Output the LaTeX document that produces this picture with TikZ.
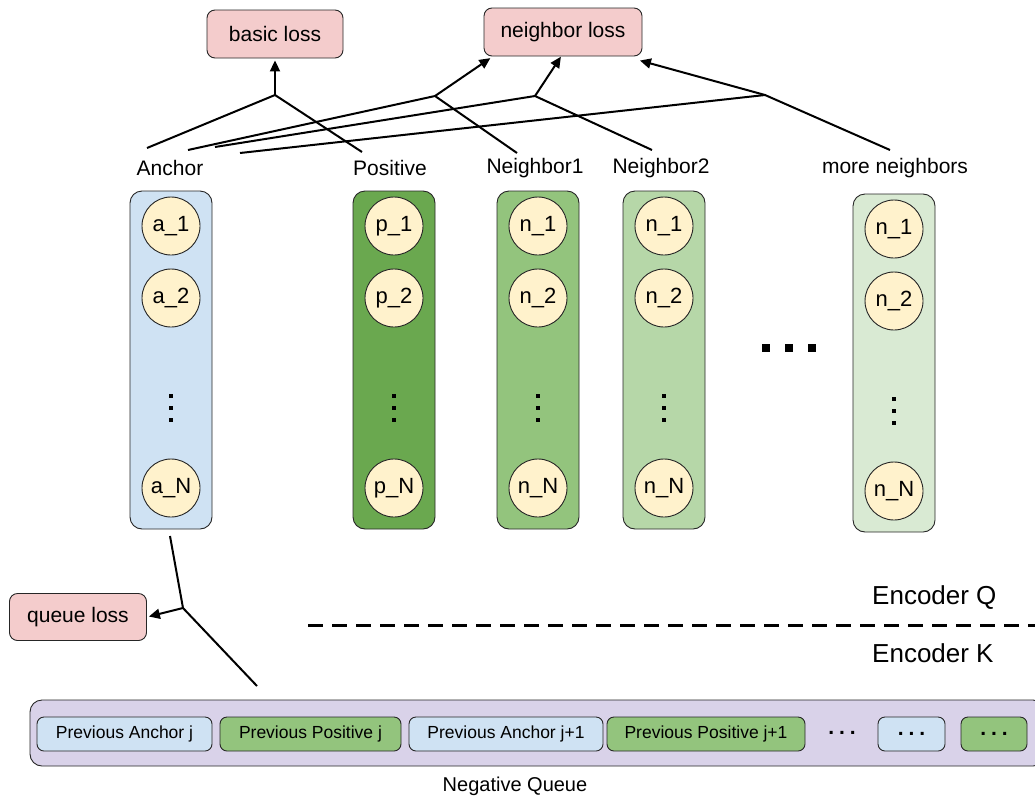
\documentclass[tikz,border=0pt]{standalone}
\usepackage{fontspec}
\setmainfont{Liberation Sans}
\usetikzlibrary{arrows.meta, positioning}
\definecolor{ink}{HTML}{262626}
\definecolor{colA}{HTML}{CFE2F3}
\definecolor{colP}{HTML}{6AA84F}
\definecolor{colNa}{HTML}{93C47D}
\definecolor{colNb}{HTML}{B6D7A8}
\definecolor{colNc}{HTML}{D9EAD3}
\definecolor{cellfill}{HTML}{FFF2CC}
\definecolor{lossfill}{HTML}{F4CCCC}
\definecolor{queuefill}{HTML}{D9D2E9}
\tikzset{
  col/.style={rounded corners=12pt, draw=ink, line width=0.9pt,
    minimum width=82pt, minimum height=338pt, inner sep=0pt},
  cell/.style={circle, draw=ink, line width=0.9pt, fill=cellfill,
    minimum size=58pt, inner sep=0pt, font=\fontsize{22}{26}\selectfont},
  lbl/.style={font=\fontsize{21}{25}\selectfont, inner sep=0pt},
  loss/.style={rounded corners=8pt, draw=ink, line width=0.9pt, fill=lossfill,
    font=\fontsize{21}{25}\selectfont, inner sep=0pt},
  qbox/.style={rounded corners=7pt, draw=ink, line width=0.9pt,
    minimum height=34pt, inner sep=0pt, font=\fontsize{17.5}{20}\selectfont},
  qdot/.style={font=\fontsize{21}{24}\selectfont\bfseries, inner sep=0pt},
  enc/.style={font=\fontsize{26}{30}\selectfont, inner sep=0pt, anchor=west},
  link/.style={line width=2pt, color=black},
  flow/.style={link, -{Triangle[length=11pt, width=10pt]}, shorten >=2pt},
}

\begin{document}
\begin{tikzpicture}[x=1pt, y=-1pt]
  \useasboundingbox (0,0) rectangle (1035,798);

  % loss boxes
  \node[loss, minimum width=136pt, minimum height=48pt] (basic) at (275,34) {basic loss};
  \node[loss, minimum width=158pt, minimum height=48pt] (nloss) at (563,32) {neighbor loss};
  \node[loss, minimum width=137pt, minimum height=47pt] (qloss) at (78,617) {queue loss};

  % column labels
  \node[lbl] (lanc) at (170,168) {Anchor};
  \node[lbl] (lpos) at (390,168) {Positive};
  \node[lbl] (lna) at (535,168) {Neighbor1};
  \node[lbl] (lnb) at (661,168) {Neighbor2};
  \node[lbl] (lnc) at (895,168) {more neighbors};

  % embedding columns
  \foreach \x/\dy/\c/\l/\n in {171/0/colA/a/A, 394/0/colP/p/P, 538/0/colNa/n/Na,
      664/0/colNb/n/Nb, 894/3/colNc/n/Nc}{
    \node[col, fill=\c] (col\n) at (\x,360+\dy) {};
    \node[cell] (\n-1) at (\x,226+\dy) {\l\_1};
    \node[cell] (\n-2) at (\x,298+\dy) {\l\_2};
    \node[cell] (\n-N) at (\x,488+\dy) {\l\_N};
    \foreach \y in {396,408,420}
      \fill (\x-2,\y+\dy-2) rectangle ++(4,4);
  }
  \foreach \x in {766,789,812}
    \fill (\x-4,344) rectangle ++(8,8);

  % junctions and line ends
  \coordinate (jb) at (275,95);
  \coordinate (ja) at (435,96);
  \coordinate (jn) at (535,96);
  \coordinate (jm) at (765,95);
  \coordinate (ta) at (492,57);
  \coordinate (tn) at (562,55);
  \coordinate (tm) at (638,60);
  \coordinate (e1) at (147,148);
  \coordinate (e2) at (188,150);
  \coordinate (e3) at (215,147);
  \coordinate (e4) at (240,153);
  \coordinate (ep) at (362,152);
  \coordinate (ea) at (517,153);
  \coordinate (en) at (652,150);
  \coordinate (em) at (890,150);

  \draw[link] (e1) -- (jb) -- (ep);
  \draw[flow] (jb) -- (basic);
  \draw[link] (e2) -- (ja) -- (ea);
  \draw[flow] (ja) -- (ta);
  \draw[link] (e3) -- (jn) -- (en);
  \draw[flow] (jn) -- (tn);
  \draw[link] (e4) -- (jm) -- (em);
  \draw[flow] (jm) -- (tm);

  % queue loss
  \coordinate (qa) at (170,536);
  \coordinate (jq) at (183,608);
  \coordinate (qb) at (257,686);
  \draw[link] (qa) -- (jq) -- (qb);
  \draw[flow] (jq) -- (qloss.east);

  % encoder split
  \coordinate (dl) at (308,625);
  \coordinate (dr) at (1035,625);
  \draw[line width=3pt, dash pattern=on 15pt off 9pt] (dl) -- (dr);
  \node[enc] (encq) at (872,598) {Encoder Q};
  \node[enc] (enck) at (872,653) {Encoder K};

  % negative queue
  \node[qbox, rounded corners=12pt, fill=queuefill, minimum width=1015pt,
    minimum height=66pt] (queue) at (537.5,733) {};
  \node[qbox, fill=colA, minimum width=175pt] (qa1) at (124.5,734) {Previous Anchor j};
  \node[qbox, fill=colNa, minimum width=181pt] (qp1) at (310.5,734) {Previous Positive j};
  \node[qbox, fill=colA, minimum width=194pt] (qa2) at (506,734) {Previous Anchor j+1};
  \node[qbox, fill=colNa, minimum width=198pt] (qp2) at (706,734) {Previous Positive j+1};
  \node[qdot] (qdots) at (842,733) {.\hspace{5pt}.\hspace{5pt}.};
  \node[qbox, fill=colA, minimum width=67pt] (qa3) at (911.5,734) {};
  \node[qdot] at (qa3.center) {.\hspace{5pt}.\hspace{5pt}.};
  \node[qbox, fill=colNa, minimum width=66pt] (qp3) at (994,734) {};
  \node[qdot] at (qp3.center) {.\hspace{5pt}.\hspace{5pt}.};
  \node[lbl, font=\fontsize{20}{24}\selectfont] (lqueue) at (515,786) {Negative Queue};
\end{tikzpicture}
\end{document}
